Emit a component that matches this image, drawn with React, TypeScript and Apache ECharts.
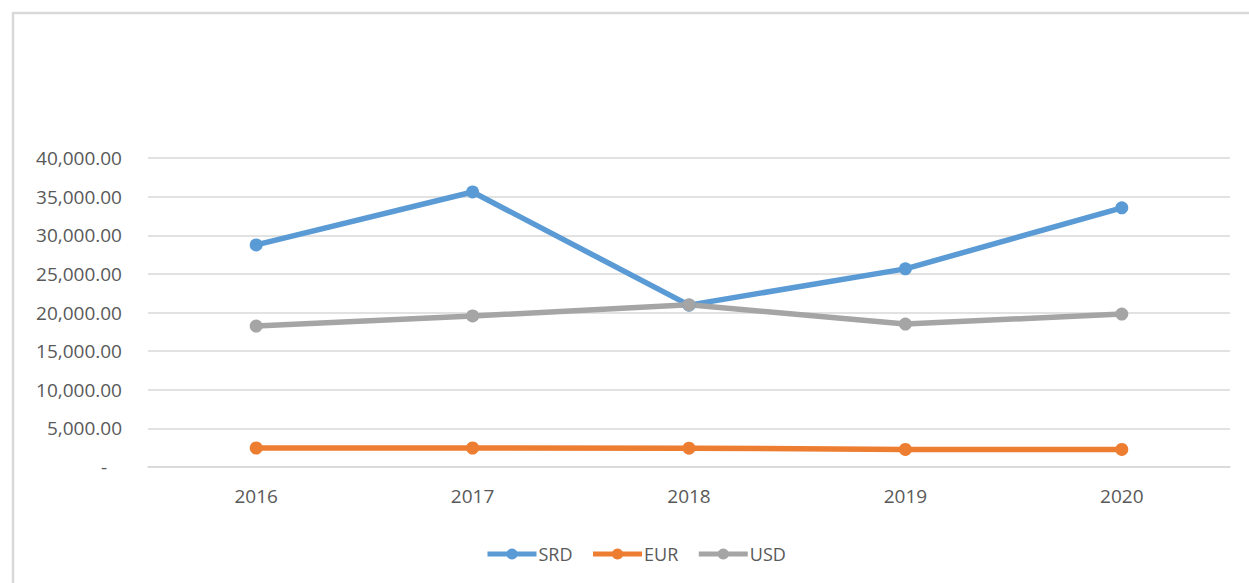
import React, { useEffect, useRef } from "react";
import * as echarts from "echarts";

const years = ["2016", "2017", "2018", "2019", "2020"];
const srd = [28750, 35600, 20950, 25650, 33550];
const eur = [2460, 2460, 2440, 2280, 2270];
const usd = [18250, 19550, 21000, 18500, 19800];

const FONT = "'Open Sans', 'Noto Sans', sans-serif";

export default function App() {
  const ref = useRef<HTMLDivElement>(null);
  useEffect(() => {
    document.body.style.margin = "0";
    if (!ref.current) return;
    const chart = echarts.init(ref.current, null, { renderer: "svg" });
    const mkSeries = (name: string, data: number[], color: string) => ({
      name,
      type: "line",
      data,
      symbol: "circle",
      symbolSize: 13,
      lineStyle: { width: 5.5, color },
      itemStyle: { color },
    });
    chart.setOption({
      animation: false,
      backgroundColor: "#ffffff",
      graphic: [
        {
          type: "rect",
          shape: { x: 13, y: 13, width: 1300, height: 700 },
          style: { fill: "none", stroke: "#d9d9d9", lineWidth: 2.5 },
          silent: true,
        },
      ],
      grid: { left: 148, right: 19, top: 158, bottom: 116 },
      legend: {
        left: 480,
        top: 540,
        itemWidth: 49,
        itemHeight: 14,
        itemGap: 18,
        lineStyle: { width: 5 },
        textStyle: { fontFamily: FONT, fontSize: 18, color: "#595959", padding: [0, 0, 0, -3] },
        data: ["SRD", "EUR", "USD"],
      },
      xAxis: {
        type: "category",
        data: years,
        boundaryGap: true,
        axisLine: { show: true, lineStyle: { color: "#d9d9d9", width: 1.5 } },
        axisTick: { show: false },
        axisLabel: { fontFamily: FONT, fontSize: 19, color: "#595959", margin: 19 },
      },
      yAxis: {
        type: "value",
        min: 0,
        max: 40000,
        interval: 5000,
        axisLine: { show: false },
        axisTick: { show: false },
        splitLine: { lineStyle: { color: "#d9d9d9", width: 1.5 } },
        axisLabel: {
          fontFamily: FONT,
          fontSize: 19,
          color: "#595959",
          margin: 26,
          formatter: (v: number) =>
            v === 0
              ? "-   "
              : v.toLocaleString("en-US", { minimumFractionDigits: 2, maximumFractionDigits: 2 }),
        },
      },
      series: [
        mkSeries("SRD", srd, "#5b9bd5"),
        mkSeries("EUR", eur, "#ed7d31"),
        mkSeries("USD", usd, "#a5a5a5"),
      ],
    });
    return () => chart.dispose();
  }, []);
  return <div ref={ref} style={{ width: 1249, height: 583 }} />;
}
